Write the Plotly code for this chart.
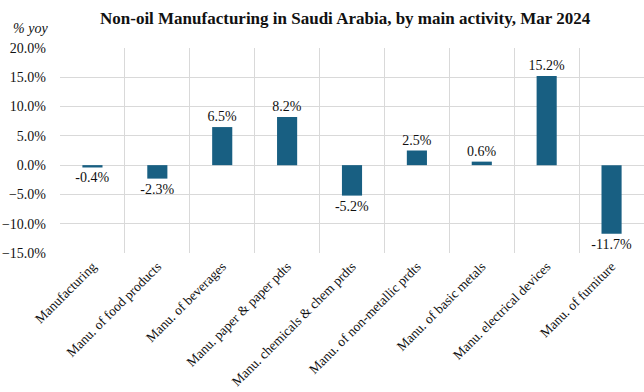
import plotly.graph_objects as go

categories = ["Manufacturing", "Manu. of food products", "Manu. of beverages",
              "Manu. paper & paper pdts", "Manu. chemicals & chem prdts",
              "Manu. of non-metallic prdts", "Manu. of basic metals",
              "Manu. electrical devices", "Manu. of furniture"]
values = [-0.4, -2.3, 6.5, 8.2, -5.2, 2.5, 0.6, 15.2, -11.7]
labels = [f"{v:.1f}%" for v in values]

serif = "Liberation Serif"

fig = go.Figure(go.Bar(
    x=categories, y=values, width=0.31,
    marker=dict(color="#185f82", line=dict(width=0)),
    text=labels, textposition="outside", cliponaxis=False, constraintext="none",
    textfont=dict(family=serif, size=14, color="#111"),
))

fig.update_layout(
    width=644, height=392,
    margin=dict(l=60, r=0, t=48, b=139),
    paper_bgcolor="white", plot_bgcolor="white",
    showlegend=False,
    font=dict(family=serif, color="#111"),
    title=dict(text="<b>Non-oil Manufacturing in Saudi Arabia, by main activity, Mar 2024</b>",
               x=0.536, xanchor="center", y=0.953, yanchor="middle",
               font=dict(family=serif, size=17, color="#111")),
    xaxis=dict(tickson="boundaries", showgrid=True, gridcolor="#d9d9d9", gridwidth=1,
               tickangle=-45, tickfont=dict(family=serif, size=13.5, color="#111"),
               ticks="", showline=False, zeroline=False, ticklabelstandoff=2,
               automargin=False),
    yaxis=dict(range=[-15, 20], dtick=5, tickformat=".1f", ticksuffix="%",
               showgrid=True, gridcolor="#d9d9d9", gridwidth=1, zeroline=False,
               tickfont=dict(family=serif, size=14, color="#111"), ticks="",
               showline=False, ticklabelstandoff=13, automargin=False),
    annotations=[dict(text="<i>% yoy</i>", xref="paper", yref="paper", x=-0.017, y=1.093,
                      xanchor="right", yanchor="middle", showarrow=False,
                      font=dict(family=serif, size=14, color="#111"))],
)

fig.write_html("out.html")
